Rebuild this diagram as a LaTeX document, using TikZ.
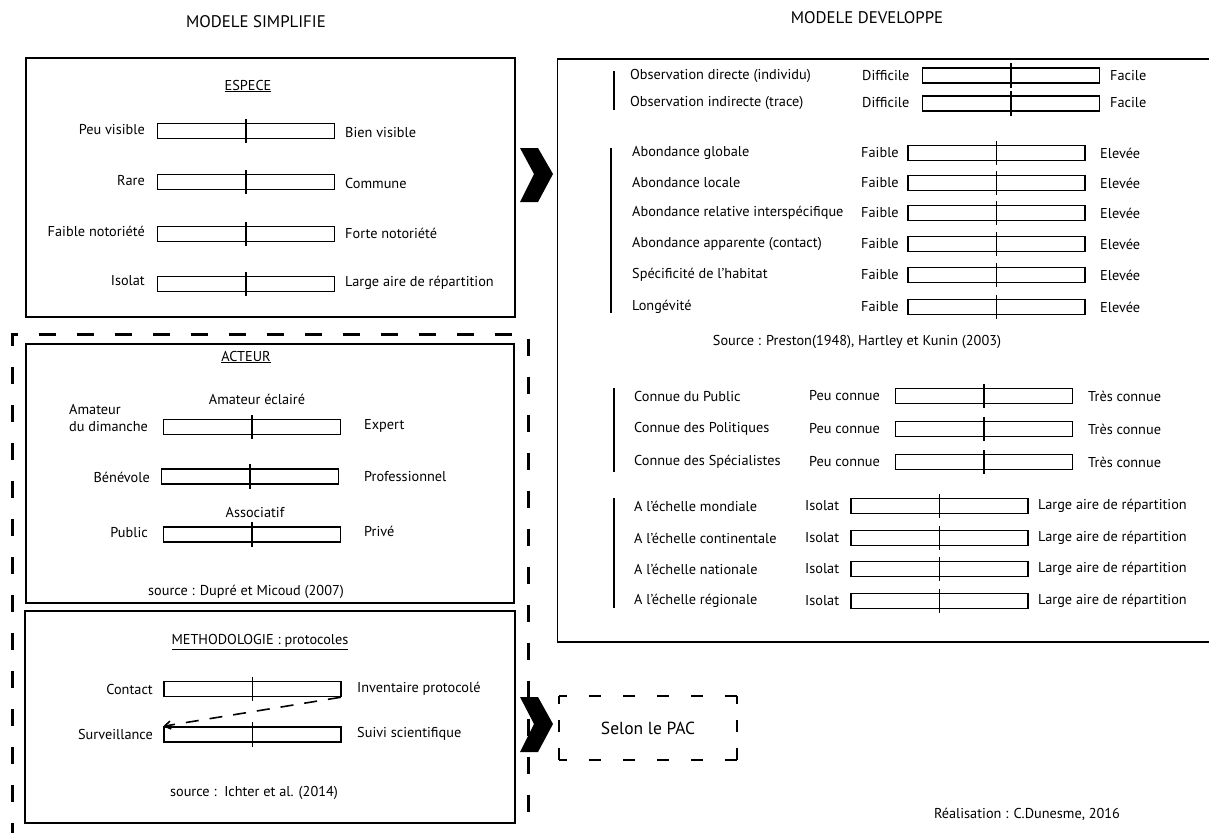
\documentclass[tikz,border=0pt]{standalone}
\usepackage{fontspec}
\setmainfont{PT Sans}
\usetikzlibrary{arrows.meta}
\newcommand\sbar[3]{%
  \node[sbar] (#1) at (#2,#3) {};
  \draw[tickln] ([yshift=4pt]#1.north) -- ([yshift=-4pt]#1.south);}
\begin{document}
\begin{tikzpicture}[x=1pt,y=-1pt,
  every node/.style={font=\fontsize{14.3}{16}\selectfont, inner sep=0pt},
  sbar/.style={draw, line width=1.5pt, minimum width=177pt, minimum height=15pt, inner sep=0pt},
  tickln/.style={line width=1.4pt},
  frame/.style={draw, line width=1.3pt},
  grp/.style={line width=2.6pt},
  bigdash/.style={line width=3pt, dash pattern=on 17pt off 21pt},
  pacdashh/.style={line width=1.8pt, dash pattern=on 12pt off 22pt, dash phase=4pt},
  pacdashv/.style={line width=1.8pt, dash pattern=on 12pt off 16pt, dash phase=4pt},
  lab/.style={anchor=east},
  rlab/.style={anchor=west},
  title/.style={font=\fontsize{16.8}{19}\selectfont},
  chev/.style={fill=black}
]
\useasboundingbox (0,0) rectangle (1209,832);

% titles
\node[title] (tS) at (256,22) {MODELE SIMPLIFIE};
\node[title] (tD) at (867,18) {MODELE DEVELOPPE};

% ===== ESPECE =====
\draw[frame] (26,58) rectangle (515,317);
\node (esp) at (248,86) {\underline{ESPECE}};
\sbar{e1}{246}{131}
\sbar{e2}{246}{182}
\sbar{e3}{246}{234}
\sbar{e4}{246}{284}
\node[lab] (el1) at (145,130) {Peu visible};
\node[rlab] (er1) at (345,133) {Bien visible};
\node[lab] (el2) at (145,181) {Rare};
\node[rlab] (er2) at (345,183) {Commune};
\node[lab] (el3) at (145,231) {Faible notoriété};
\node[rlab] (er3) at (345,233) {Forte notoriété};
\node[lab] (el4) at (145,281) {Isolat};
\node[rlab] (er4) at (345,283) {Large aire de répartition};

% chevrons
\fill[chev] (520,148) -- (538,148) -- (553,174) -- (538,202) -- (520,202) -- (534,174) -- cycle;
\fill[chev] (520,697) -- (538,697) -- (553,724) -- (538,752) -- (520,752) -- (534,724) -- cycle;

% ===== dashed group =====
\draw[bigdash] (12.5,840) -- (12.5,334) -- (528,334) -- (528,840);

% ===== ACTEUR =====
\draw[frame] (26,344) rectangle (514,603);
\node (act) at (246,357) {\underline{ACTEUR}};
\node (ae) at (257,399) {Amateur éclairé};
\sbar{a1}{252}{427}
\node[anchor=north west, align=left, font=\fontsize{14.3}{17}\selectfont] (al1) at (69,404) {Amateur\\du dimanche};
\node[rlab] (ar1) at (364,426) {Expert};
\sbar{a2}{250}{476.5}
\node[lab] (al2) at (150,477) {Bénévole};
\node[rlab] (ar2) at (364,477) {Professionnel};
\node (ass) at (255,512) {Associatif};
\sbar{a3}{252}{534.5}
\node[lab] (al3) at (148,533) {Public};
\node[rlab] (ar3) at (364,531) {Privé};
\node (asrc) at (246,592) {source : Dupré et Micoud (2007)};

% ===== METHODOLOGIE =====
\draw[frame] (25,611) rectangle (515,823);
\node (met) at (260,642) {\underline{METHODOLOGIE : protocoles}};
\sbar{m1}{252.5}{689}
\sbar{m2}{252.5}{734.5}
\node[lab] (ml1) at (153,689) {Contact};
\node[rlab] (mr1) at (357,689) {Inventaire protocolé};
\node[lab] (ml2) at (153,734) {Surveillance};
\node[rlab] (mr2) at (357,734) {Suivi scientifique};
\draw[line width=1.6pt, dash pattern=on 13pt off 11pt, -{Straight Barb[length=6pt,width=8pt]}]
  ([xshift=-1pt]m1.south east) -- (m2.north west);
\node (msrc) at (254,793) {source :\ \ Ichter et al. (2014)};

% ===== Selon le PAC =====
\node[minimum width=177pt, minimum height=64pt, font=\fontsize{17.5}{20}\selectfont] (pac) at (648,728) {Selon le PAC};
\draw[pacdashh] (pac.north west) -- (pac.north east);
\draw[pacdashh] (pac.south west) -- (pac.south east);
\draw[pacdashv] (pac.north west) -- (pac.south west);
\draw[pacdashv] (pac.north east) -- (pac.south east);

% ===== MODELE DEVELOPPE box =====
\draw[frame] (1210,59) -- (557.5,59) -- (557.5,642) -- (1210,642);

% group 1
\draw[grp] (614,71) -- (614,110);
\node[rlab] (o1) at (630,76) {Observation directe (individu)};
\node[rlab] (o2) at (630,103) {Observation indirecte (trace)};
\node[rlab] (od1) at (862,76) {Difficile};
\node[rlab] (od2) at (862,103) {Difficile};
\sbar{ob1}{1011}{75.5}
\sbar{ob2}{1011}{103.5}
\node[rlab] (of1) at (1110,76) {Facile};
\node[rlab] (of2) at (1110,103) {Facile};

% group 2
\draw[grp] (611,148) -- (611,313);
\foreach \n/\y/\t in {1/153/Abondance globale, 2/183/Abondance locale, 3/213/Abondance relative interspécifique, 4/244/Abondance apparente (contact), 5/275/Spécificité de l’habitat, 6/307/Longévité}{
  \node[rlab] (ab\n) at (632,\y) {\t};
  \node[rlab] (abf\n) at (861,\y) {Faible};
  \sbar{abb\n}{996.5}{\y}
  \node[rlab] (abe\n) at (1100,\y) {Elevée};
}
\node (psrc) at (857,342) {Source : Preston(1948), Hartley et Kunin (2003)};

% group 3
\draw[grp] (614,388) -- (614,472);
\foreach \n/\y/\t in {1/396/Connue du Public, 2/429/Connue des Politiques, 3/462/Connue des Spécialistes}{
  \node[rlab] (cn\n) at (634,\y) {\t};
  \node[rlab] (cnp\n) at (809,\y) {Peu connue};
  \sbar{cnb\n}{984}{\y}
  \node[rlab] (cnt\n) at (1088,\y) {Très connue};
}

% group 4
\draw[grp] (614,498) -- (614,608);
\foreach \n/\y/\t in {1/506/A l’échelle mondiale, 2/538/A l’échelle continentale, 3/569/A l’échelle nationale, 4/601/A l’échelle régionale}{
  \node[rlab] (ec\n) at (634,\y) {\t};
  \node[rlab] (eci\n) at (805,\y) {Isolat};
  \sbar{ecb\n}{939.5}{\y}
  \node[rlab] (ecl\n) at (1038,\y) {Large aire de répartition};
}

\node (real) at (1027,814) {Réalisation : C.Dunesme, 2016};
\end{tikzpicture}
\end{document}
